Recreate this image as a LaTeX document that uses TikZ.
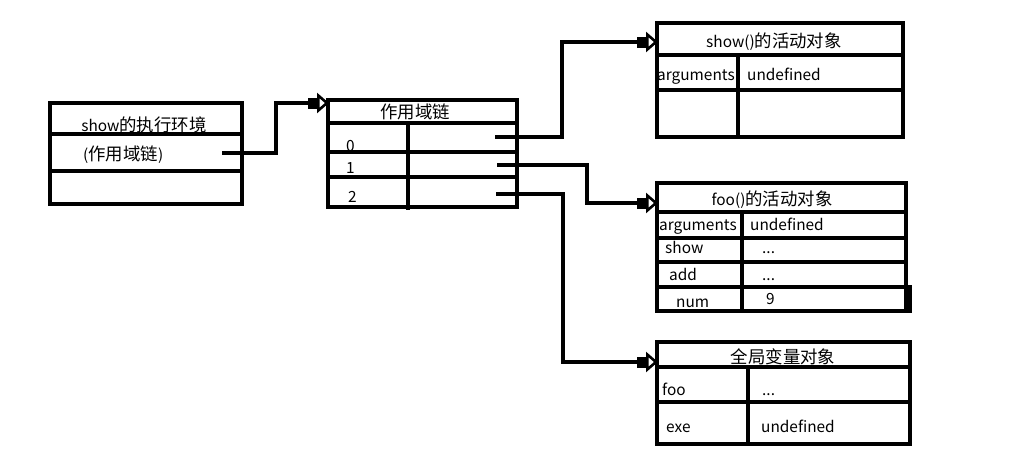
\documentclass[tikz,border=0pt]{standalone}
\usepackage{fontspec}
\setmainfont{Noto Sans CJK SC}
\newfontfamily\cjkf[Scale=1.13]{Noto Sans CJK SC}
\newcommand\zh[1]{{\cjkf #1}}
\usetikzlibrary{arrows.meta}
\begin{document}
\begin{tikzpicture}[x=1pt,y=-1pt,
  lw/.style={line width=3.2pt},
  box/.style={draw, lw, inner sep=0pt, outer sep=0pt},
  txt/.style={font=\fontsize{15.4}{17}\selectfont, inner sep=0pt, anchor=base west},
  ctxt/.style={font=\fontsize{15.4}{17}\selectfont, inner sep=0pt, anchor=base},
  conn/.style={lw, -{Rectangle[length=9pt,width=11pt] Triangle[open,length=12pt,width=20pt,line width=2.6pt]}}]
\useasboundingbox (0,0) rectangle (1029,463);
\fill[white] (0,0) rectangle (1029,463);

% box 1: show execution environment
\node[box, minimum width=192pt, minimum height=101pt] (env) at (146,153.5) {};
\draw[lw] (50,134) -- (242,134);
\draw[lw] (50,171) -- (242,171);
\node[ctxt] (envT) at (144,131) {show\zh{的执行环境}};
\node[txt] (envS) at (83,160) {(\zh{作用域链})};
\coordinate (envOut) at (222,153);

% box 2: scope chain
\node[box, minimum width=189pt, minimum height=107pt] (chain) at (422.5,153.5) {};
\draw[lw] (328,123) -- (517,123);
\draw[lw] (328,152) -- (517,152);
\draw[lw] (328,177) -- (517,177);
\draw[lw] (408,123) -- (408,210);
\node[ctxt] (chainT) at (415,118) {\zh{作用域链}};
\node[txt] (r0) at (346,151) {0};
\node[txt] (r1) at (346,173) {1};
\node[txt] (r2) at (348,202) {2};
\coordinate (chainIn) at (329,103);
\coordinate (s0) at (495,137);
\coordinate (s1) at (497,165);
\coordinate (s2) at (496,194);

% box 3: show() activation object
\node[box, minimum width=246pt, minimum height=114pt] (showAO) at (780,80) {};
\draw[lw] (657,55) -- (905,55);
\draw[lw] (657,90) -- (905,90);
\draw[lw] (738,55) -- (738,137);
\node[ctxt] (showT) at (774,47) {show()\zh{的活动对象}};
\node[txt] (sa1) at (657,80) {arguments};
\node[txt] (sa2) at (747,80) {undefined};
\coordinate (showIn) at (658,42);

% box 4: foo() activation object
\node[box, minimum width=249pt, minimum height=128pt] (fooAO) at (781.5,247) {};
\draw[lw] (657,212) -- (907,212);
\draw[lw] (657,238) -- (907,238);
\draw[lw] (657,262) -- (907,262);
\draw[lw] (657,287) rectangle (910,311);
\draw[lw] (742,212) -- (742,311);
\node[ctxt] (fooT) at (772,205) {foo()\zh{的活动对象}};
\node[txt] (fa1) at (659,230) {arguments};
\node[txt] (fa2) at (750,230) {undefined};
\node[txt] (fb1) at (665,253) {show};
\node[txt] (fb2) at (762,253) {...};
\node[txt] (fc1) at (669,280) {add};
\node[txt] (fc2) at (762,280) {...};
\node[txt] (fd1) at (676,307) {num};
\node[txt] (fd2) at (766,304) {9};
\coordinate (fooIn) at (658,203);

% box 5: global variable object
\node[box, minimum width=253pt, minimum height=102pt] (glob) at (783.5,393) {};
\draw[lw] (657,367) -- (910,367);
\draw[lw] (657,402) -- (910,402);
\draw[lw] (748,367) -- (748,444);
\node[ctxt] (globT) at (783,363) {\zh{全局变量对象}};
\node[txt] (ga1) at (662,395) {foo};
\node[txt] (ga2) at (762,395) {...};
\node[txt] (gb1) at (666,432) {exe};
\node[txt] (gb2) at (761,432) {undefined};
\coordinate (globIn) at (658,362);

% connectors
\draw[conn] (envOut) -- (276,153) |- (chainIn);
\draw[conn] (s0) -- (562,137) |- (showIn);
\draw[conn] (s1) -- (587,165) |- (fooIn);
\draw[conn] (s2) -- (563,194) |- (globIn);
\end{tikzpicture}
\end{document}
